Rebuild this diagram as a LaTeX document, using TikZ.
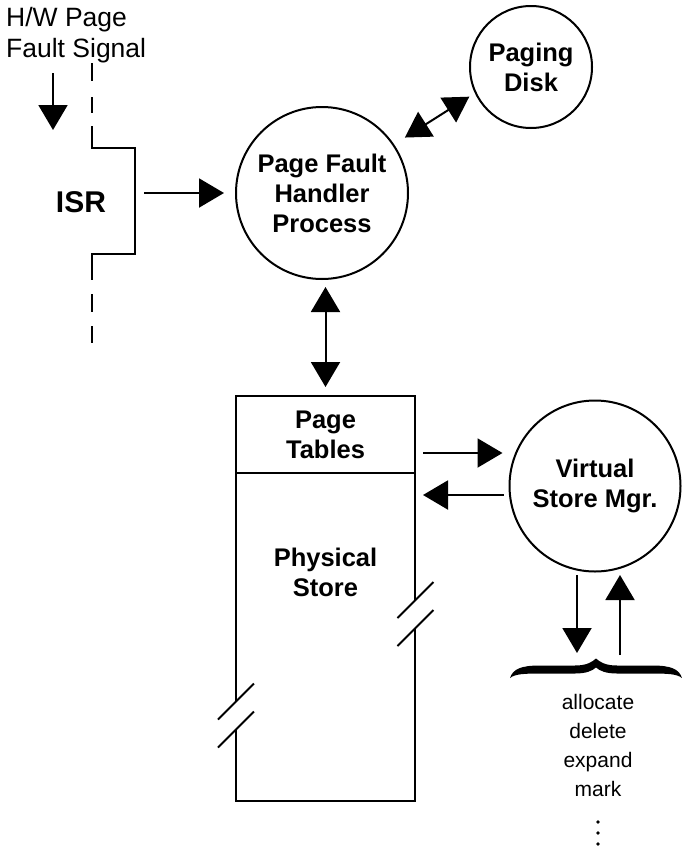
\documentclass[tikz,border=0pt]{standalone}
\usepackage{fontspec}
\setmainfont{Liberation Sans}
\usetikzlibrary{arrows.meta}

\begin{document}
\begin{tikzpicture}[x=1pt,y=-1pt,
  wire/.style={line width=2pt},
  tipshape/.tip={Triangle[length=25pt,width=29pt]},
  arr/.style={line width=2pt,-tipshape},
  dbl/.style={line width=2pt,tipshape-tipshape},
  bold/.style={font=\fontsize{25.5}{30}\selectfont\bfseries, align=center, inner sep=0pt},
  proc/.style={circle, draw, line width=2pt, inner sep=0pt, bold},
  plain/.style={font=\fontsize{26.5}{31}\selectfont, inner sep=0pt},
  slash/.style={line width=2pt}
]
\useasboundingbox (0,0) rectangle (682,849);

% ---- processes ----
\node[proc, minimum size=172pt] (pfh) at (322,193) {Page Fault\\Handler\\Process};
\node[proc, minimum size=122pt] (disk) at (531,67) {Paging\\Disk};
\node[proc, minimum size=171pt] (vsm) at (595,486) {Virtual\\Store Mgr.};

% ---- interrupt service routine ----
\node[plain, anchor=north west, align=left] (hw) at (6,7) {H/W Page\\Fault Signal};
\node[bold, font=\fontsize{30}{36}\selectfont\bfseries] (isr) at (81,202) {ISR};
\coordinate (sigA) at (53,73);
\coordinate (sigB) at (53,130);
\coordinate (isrTop) at (92,148);
\coordinate (isrBot) at (92,254);
\coordinate (isrR) at (135,193);
\draw[arr] (sigA) -- (sigB);
\foreach \a/\b in {63/81, 97/113, 294/312, 326/343}
  \draw[wire] (92,\a) -- (92,\b);
\draw[wire] (92,126) -- (isrTop) -- (135,148) -- (135,254) -- (isrBot) -- (92,280);
\draw[arr, shorten >=11pt, shorten <=9pt] (isrR) -- (pfh.west |- isrR);

% ---- paging disk link ----
\draw[dbl, shorten <=12.7pt, shorten >=6.5pt] (pfh.34) -- (disk.205);

% ---- page tables / physical store ----
\node[draw, line width=2pt, outer sep=0pt, minimum width=179pt, minimum height=77pt, bold]
  (pt) at (325.5,434.5) {Page\\Tables};
\node[bold] (phys) at (325.5,572) {Physical\\Store};
\draw[wire] (pt.south west) -- (236,701);
\draw[wire] (236,729) -- (236,801) -- (415,801) -- (415,629);
\draw[wire] (415,601) -- (pt.south east);
\foreach \x/\y in {236/701.5, 236/729.5, 415.5/600, 415.5/628}
  \draw[slash] (\x-18,\y+18) -- (\x+18,\y-18);

\draw[dbl, shorten <=7pt, shorten >=9pt] (pfh.south -| pt.north) -- (pt.north);

% ---- page tables <-> virtual store manager ----
\draw[arr, shorten <=8pt, shorten >=6pt] (pt.east |- 0,453) -- (vsm.west |- 0,453);
\draw[arr, shorten <=5pt, shorten >=8pt] (vsm.west |- 0,495) -- (pt.east |- 0,495);

% ---- operations ----
\coordinate (dnA) at (577,575);
\coordinate (dnB) at (577,653);
\coordinate (upA) at (620,655);
\coordinate (upB) at (620,575);
\draw[arr] (dnA) -- (dnB);
\draw[arr] (upA) -- (upB);

% thick curly brace over the operation list
\fill (510,678) .. controls (513,669) and (521,665.5) .. (540,665.5) -- (575,665.5)
  .. controls (587,665.5) and (592,662) .. (596,658.5)
  .. controls (600,662) and (605,665.5) .. (617,665.5) -- (652,665.5)
  .. controls (671,665.5) and (679,669) .. (682,678)
  .. controls (677,674) and (668,673.5) .. (652,673.5) -- (617,673.5)
  .. controls (606,673.5) and (600,671) .. (596,667.5)
  .. controls (592,671) and (586,673.5) .. (575,673.5) -- (540,673.5)
  .. controls (524,673.5) and (515,674) .. (510,678) -- cycle;

\node[font=\fontsize{21}{29}\selectfont, align=center, inner sep=0pt] (ops) at (598,745)
  {allocate\\delete\\expand\\mark};
\foreach \y in {822,833,844}
  \fill (598,\y) circle (1.8pt);
\end{tikzpicture}
\end{document}
